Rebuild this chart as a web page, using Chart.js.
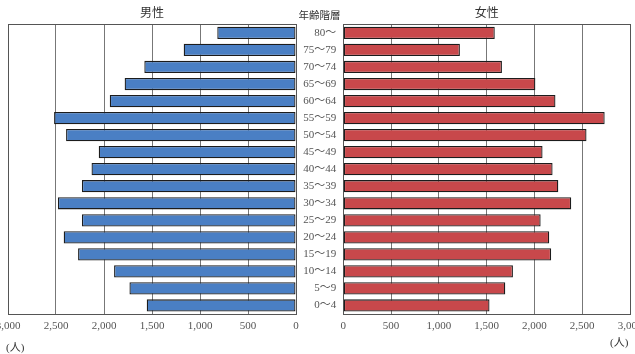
<!DOCTYPE html>
<html>
<head>
<meta charset="utf-8">
<script src="https://cdn.jsdelivr.net/npm/chart.js@4"></script>
<style>
  html, body { margin: 0; padding: 0; background: #fff; }
  #wrap { position: relative; width: 635px; height: 354px; overflow: hidden; }
  canvas { position: absolute; top: 0; }
  .txt { position: absolute; font-family: "Liberation Serif", "Noto Sans CJK JP"; color: #333; white-space: nowrap; }
</style>
</head>
<body>
<div id="wrap">
  <canvas id="male" style="left:0" width="300" height="354"></canvas>
  <canvas id="female" style="left:296px" width="339" height="354"></canvas>
  <div class="txt" id="hdr" style="left:296px;width:47px;top:7px;text-align:center;font-size:10.5px">年齢階層</div>
  <div class="txt" style="left:6px;top:338px;font-size:11px">(人)</div>
  <div class="txt" style="left:610px;top:333px;font-size:11px">(人)</div>
</div>
<script>
const ages = ['80～', '75～79', '70～74', '65～69', '60～64', '55～59', '50～54', '45～49', '40～44',
  '35～39', '30～34', '25～29', '20～24', '15～19', '10～14', '5～9', '0～4']
const male = [820, 1170, 1580, 1785, 1940, 2520, 2395, 2055, 2130, 2230, 2480, 2230, 2420, 2270, 1895, 1735, 1555]
const female = [1585, 1220, 1660, 2010, 2220, 2735, 2545, 2085, 2190, 2250, 2385, 2065, 2155, 2175, 1775, 1695, 1530]
const axisMax = 3000
const tickStep = 500

const font = { family: '"Liberation Serif", "Noto Sans CJK JP"', size: 11 }

// outline around the plot area
const frame = {
  id: 'frame',
  beforeDatasetsDraw(chart) {
    const a = chart.chartArea
    const ctx = chart.ctx
    ctx.save()
    ctx.strokeStyle = '#555'
    ctx.lineWidth = 1
    ctx.strokeRect(Math.round(a.left) + 0.5, Math.round(a.top) + 0.5,
      Math.round(a.right - a.left), Math.round(a.bottom - a.top))
    ctx.restore()
  }
}

const xScale = reverse => ({
  reverse: reverse,
  min: 0,
  max: axisMax,
  grid: { color: '#777', lineWidth: 1, drawTicks: false },
  border: { display: false },
  ticks: {
    stepSize: tickStep,
    padding: 6,
    color: '#555',
    font: font,
    maxRotation: 0,
    autoSkip: false,
    callback: v => v.toLocaleString('en-US')
  },
  afterFit: s => { s.height = 20; s.paddingLeft = 0; s.paddingRight = 0 }
})

const make = (id, label, data, color, side) => {
  const left = side === 'left'
  new Chart(document.getElementById(id), {
    type: 'bar',
    data: {
      labels: ages,
      datasets: [{
        label: label,
        data: data,
        backgroundColor: color,
        borderColor: '#1c1c1c',
        borderWidth: 1.3,
        borderSkipped: false,
        barPercentage: 0.72,
        categoryPercentage: 1
      }]
    },
    plugins: [frame],
    options: {
      indexAxis: 'y',
      responsive: false,
      animation: false,
      layout: { padding: left ? { left: 8, right: 4, top: 0, bottom: 20 } : { left: 0, right: 5, top: 0, bottom: 20 } },
      plugins: {
        legend: { display: false },
        tooltip: { enabled: false },
        title: {
          display: true,
          text: label,
          fullSize: false,
          color: '#333',
          font: { family: '"Noto Sans CJK JP"', size: 12, weight: 'normal', lineHeight: 1.2 },
          padding: { top: 5, bottom: 5 }
        }
      },
      scales: {
        x: xScale(left),
        y: left ? { display: false } : {
          grid: { display: false, drawTicks: false },
          border: { display: false },
          ticks: { color: '#555', font: font, padding: 7 },
          afterFit: s => { s.width = 47.3 }
        }
      }
    }
  })
}

make('male', '男性', male, '#4a7fc4', 'left')
make('female', '女性', female, '#c8484b', 'right')
</script>
</body>
</html>
